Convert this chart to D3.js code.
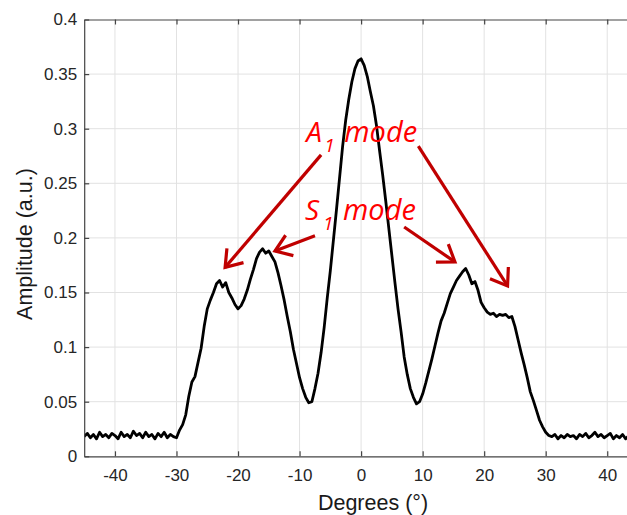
<!DOCTYPE html>
<html>
<head>
<meta charset="utf-8">
<style>
  body { margin: 0; background: #fff; }
  svg { display: block; font-family: "Liberation Sans", Arial, sans-serif; }
</style>
</head>
<body>
<svg></svg>
<script src="https://d3js.org/d3.v7.min.js"></script>
<script>
// sampled every 0.5 degree from -45 to 45
const angleStart = -45, angleStep = 0.5;
const amplitude = [
  0.018, 0.021, 0.017, 0.020, 0.016, 0.022, 0.018, 0.020, 0.017, 0.021,
  0.019, 0.016, 0.022, 0.018, 0.020, 0.017, 0.023, 0.019, 0.021, 0.017,
  0.022, 0.018, 0.020, 0.016, 0.021, 0.018, 0.022, 0.017, 0.020, 0.018,
  0.017, // -30
  0.024, 0.029, 0.038, 0.055, 0.068, 0.073, 0.086, 0.099, 0.119, 0.135,
  0.143, 0.150, 0.158, 0.161, 0.155, 0.159, 0.150, 0.145, 0.139, 0.135, // -20
  0.138, 0.144, 0.152, 0.162, 0.171, 0.181, 0.187, 0.190, 0.186, 0.188,
  0.183, 0.178, 0.168, 0.156, 0.143, 0.128, 0.114, 0.098, 0.085, 0.072, // -10
  0.062, 0.054, 0.049, 0.050, 0.062, 0.076, 0.095, 0.118, 0.145, 0.170,
  0.198, 0.226, 0.255, 0.284, 0.308, 0.327, 0.343, 0.355, 0.362, 0.364, // 0
  0.358, 0.348, 0.334, 0.321, 0.303, 0.280, 0.258, 0.234, 0.209, 0.184,
  0.159, 0.135, 0.114, 0.091, 0.075, 0.062, 0.054, 0.048, 0.050, 0.057, // 10
  0.067, 0.078, 0.089, 0.101, 0.113, 0.124, 0.131, 0.140, 0.149, 0.155,
  0.161, 0.165, 0.169, 0.172, 0.166, 0.158, 0.160, 0.152, 0.141, 0.136, // 20
  0.132, 0.130, 0.131, 0.128, 0.130, 0.129, 0.130, 0.127, 0.128, 0.119,
  0.107, 0.095, 0.084, 0.072, 0.059, 0.051, 0.042, 0.033, 0.027, 0.022, // 30
  0.019, 0.018, 0.020, 0.016, 0.019, 0.017, 0.020, 0.018, 0.019, 0.016,
  0.020, 0.018, 0.021, 0.017, 0.019, 0.022, 0.018, 0.020, 0.017, 0.019, // 40
  0.021, 0.016, 0.019, 0.017, 0.020, 0.016, 0.019, 0.018, 0.020, 0.017
];
const xTicks = [-40, -30, -20, -10, 0, 10, 20, 30, 40];
const yTicks = [0, 0.05, 0.1, 0.15, 0.2, 0.25, 0.3, 0.35, 0.4];
const xLabel = "Degrees (°)";
const yLabel = "Amplitude (a.u.)";

// annotation labels and arrows, in data units
const modeLabels = [
  { letter: "A", sub: "1", x: -8.9, y: 0.288 },
  { letter: "S", sub: "1", x: -9.1, y: 0.216 }
];
const modeArrows = [
  { from: [-6.5, 0.276], to: [-22.1, 0.173] },
  { from: [9.3, 0.284], to: [23.8, 0.156] },
  { from: [-7.5, 0.202], to: [-14.0, 0.188] },
  { from: [7.0, 0.210], to: [15.25, 0.178] }
];

const W = 627, H = 515;
const plotLeft = 84.2, plotRight = 638, plotTop = 19.5, plotBottom = 456.3;

const svg = d3.select("svg").attr("width", W).attr("height", H);

const x = d3.scaleLinear().domain([-45, 45]).range([plotLeft, plotRight]);
const y = d3.scaleLinear().domain([0, 0.4]).range([plotBottom, plotTop]);

// grid
svg.append("g").selectAll("line").data(xTicks).join("line")
  .attr("x1", d => x(d)).attr("x2", d => x(d))
  .attr("y1", plotTop).attr("y2", plotBottom)
  .attr("stroke", "#e2e2e2").attr("stroke-width", 1);
svg.append("g").selectAll("line").data(yTicks.slice(1, -1)).join("line")
  .attr("x1", plotLeft).attr("x2", plotRight)
  .attr("y1", d => y(d)).attr("y2", d => y(d))
  .attr("stroke", "#e2e2e2").attr("stroke-width", 1);

// data line
svg.append("clipPath").attr("id", "plot")
  .append("rect").attr("x", plotLeft).attr("y", plotTop)
  .attr("width", plotRight - plotLeft).attr("height", plotBottom - plotTop);

const line = d3.line()
  .x((d, i) => x(angleStart + i * angleStep))
  .y(d => y(d));

svg.append("path")
  .datum(amplitude)
  .attr("clip-path", "url(#plot)")
  .attr("d", line)
  .attr("fill", "none")
  .attr("stroke", "#000")
  .attr("stroke-width", 2.8)
  .attr("stroke-linejoin", "round");

// axes
const fmtX = d => String(d);
const fmtY = d => String(+d.toFixed(2));

const gx = svg.append("g").attr("transform", `translate(0,${plotBottom})`)
  .call(d3.axisBottom(x).tickValues(xTicks).tickFormat(fmtX)
    .tickSizeInner(-5).tickSizeOuter(0).tickPadding(12.5));
const gTop = svg.append("g").attr("transform", `translate(0,${plotTop})`)
  .call(d3.axisTop(x).tickValues(xTicks).tickFormat("")
    .tickSizeInner(-5).tickSizeOuter(0));
const gy = svg.append("g").attr("transform", `translate(${plotLeft},0)`)
  .call(d3.axisLeft(y).tickValues(yTicks).tickFormat(fmtY)
    .tickSizeInner(-5).tickSizeOuter(0).tickPadding(7));

[gx, gTop, gy].forEach(g => {
  g.selectAll("path.domain").attr("stroke", "#444").attr("stroke-width", 1.2);
  g.selectAll(".tick line").attr("stroke", "#444").attr("stroke-width", 1.2);
  g.selectAll(".tick text").attr("fill", "#262626")
    .style("font-size", "17px").style("font-family", "'Liberation Sans', Arial, sans-serif");
});

svg.append("text")
  .attr("x", 373).attr("y", 510)
  .attr("text-anchor", "middle")
  .attr("fill", "#1a1a1a")
  .style("font-size", "21.5px")
  .text(xLabel);

svg.append("text")
  .attr("transform", `translate(32,244) rotate(-90)`)
  .attr("text-anchor", "middle")
  .attr("fill", "#1a1a1a")
  .style("font-size", "21.5px")
  .text(yLabel);

// annotations
const annoFont = "'Open Sans', 'Noto Sans', sans-serif";
const lab = svg.append("g").attr("fill", "#ff0000")
  .style("font-family", annoFont).style("font-style", "italic");
modeLabels.forEach(m => {
  const px = x(m.x), py = y(m.y);
  lab.append("text").attr("x", px).attr("y", py)
    .style("font-size", "28px").text(m.letter);
  lab.append("text").attr("x", px + 18).attr("y", py + 10)
    .style("font-size", "19px").text(m.sub);
  lab.append("text").attr("x", px + 38).attr("y", py)
    .style("font-size", "29px").text("mode");
});

const arrowColor = "#c00000";
const ag = svg.append("g").attr("stroke", arrowColor).attr("fill", "none")
  .attr("stroke-width", 3.2).attr("stroke-linecap", "butt");
modeArrows.forEach(a => {
  const x0 = x(a.from[0]), y0 = y(a.from[1]);
  const x1 = x(a.to[0]), y1 = y(a.to[1]);
  const ang = Math.atan2(y0 - y1, x0 - x1);
  const len = 19, spread = 35 * Math.PI / 180;
  ag.append("line").attr("x1", x0).attr("y1", y0).attr("x2", x1).attr("y2", y1);
  ag.append("path").attr("stroke-linejoin", "miter")
    .attr("d", `M${x1 + len * Math.cos(ang + spread)},${y1 + len * Math.sin(ang + spread)}` +
      `L${x1},${y1}` +
      `L${x1 + len * Math.cos(ang - spread)},${y1 + len * Math.sin(ang - spread)}`);
});
</script>
</body>
</html>
